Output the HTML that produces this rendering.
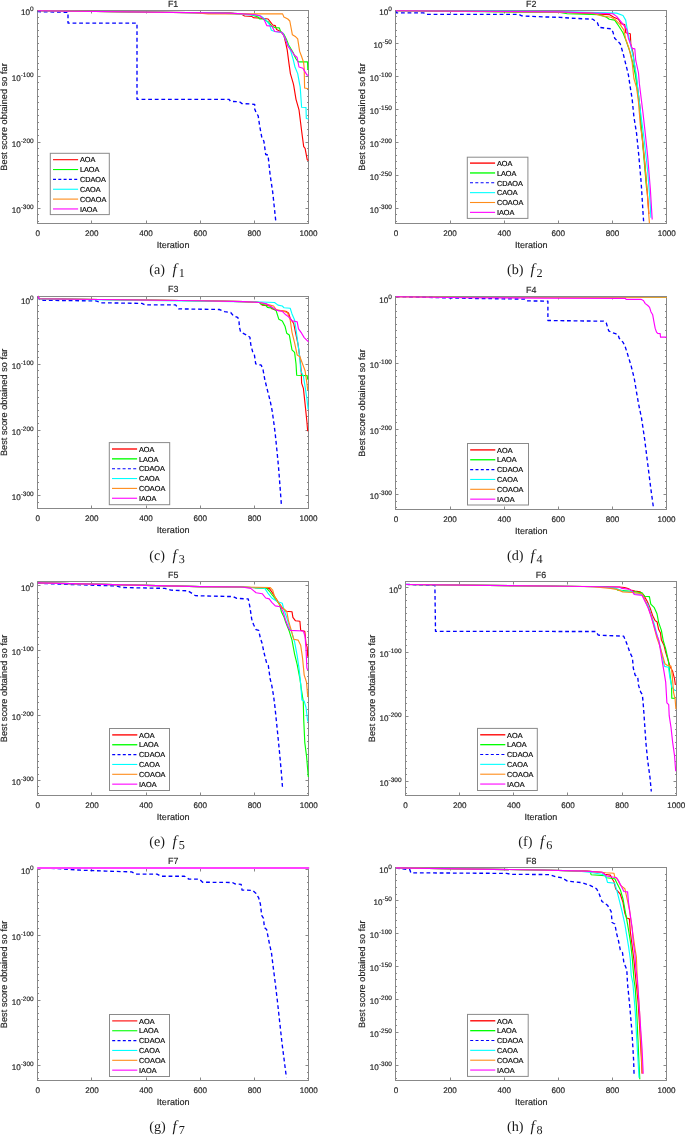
<!DOCTYPE html>
<html lang="en"><head><meta charset="utf-8"><title>Convergence curves F1-F8</title>
<style>
html,body{margin:0;padding:0;background:#fff}
body{width:685px;height:1135px;overflow:hidden}
svg{display:block;will-change:transform}
text{text-rendering:geometricPrecision}
.s{font-family:"Liberation Sans",sans-serif;fill:#262626}
.s{stroke:#262626;stroke-width:0.18px}
.k{fill:#000;stroke:#000}
.c{font-family:"Liberation Serif",serif;fill:#1a1a1a}
.ln{fill:none;stroke-linejoin:round;stroke-linecap:butt}
</style></head><body>
<svg width="685" height="1135" viewBox="0 0 685 1135">
<g id="p1">
<clipPath id="cp1"><rect x="37.4" y="9.7" width="271.8" height="213.8"/></clipPath>
<path d="M37.5 223.5v-3M37.5 10.5v3M91.5 223.5v-3M91.5 10.5v3M146.5 223.5v-3M146.5 10.5v3M200.5 223.5v-3M200.5 10.5v3M254.5 223.5v-3M254.5 10.5v3M308.5 223.5v-3M308.5 10.5v3M37.5 10.5h3 M308.5 10.5h-3M37.5 17.5h1.5 M308.5 17.5h-1.5M37.5 23.5h1.5 M308.5 23.5h-1.5M37.5 30.5h1.5 M308.5 30.5h-1.5M37.5 36.5h1.5 M308.5 36.5h-1.5M37.5 43.5h1.5 M308.5 43.5h-1.5M37.5 50.5h1.5 M308.5 50.5h-1.5M37.5 56.5h1.5 M308.5 56.5h-1.5M37.5 63.5h1.5 M308.5 63.5h-1.5M37.5 69.5h1.5 M308.5 69.5h-1.5M37.5 76.5h3 M308.5 76.5h-3M37.5 82.5h1.5 M308.5 82.5h-1.5M37.5 89.5h1.5 M308.5 89.5h-1.5M37.5 96.5h1.5 M308.5 96.5h-1.5M37.5 102.5h1.5 M308.5 102.5h-1.5M37.5 109.5h1.5 M308.5 109.5h-1.5M37.5 115.5h1.5 M308.5 115.5h-1.5M37.5 122.5h1.5 M308.5 122.5h-1.5M37.5 129.5h1.5 M308.5 129.5h-1.5M37.5 135.5h1.5 M308.5 135.5h-1.5M37.5 142.5h3 M308.5 142.5h-3M37.5 148.5h1.5 M308.5 148.5h-1.5M37.5 155.5h1.5 M308.5 155.5h-1.5M37.5 161.5h1.5 M308.5 161.5h-1.5M37.5 168.5h1.5 M308.5 168.5h-1.5M37.5 175.5h1.5 M308.5 175.5h-1.5M37.5 181.5h1.5 M308.5 181.5h-1.5M37.5 188.5h1.5 M308.5 188.5h-1.5M37.5 194.5h1.5 M308.5 194.5h-1.5M37.5 201.5h1.5 M308.5 201.5h-1.5M37.5 208.5h3 M308.5 208.5h-3M37.5 214.5h1.5 M308.5 214.5h-1.5M37.5 221.5h1.5 M308.5 221.5h-1.5" stroke="#888888" stroke-width="1" fill="none"/>
<rect x="37.5" y="10.5" width="271" height="213" fill="none" stroke="#888888" stroke-width="1"/>
<g clip-path="url(#cp1)">
<polyline class="ln" stroke="#ff0000" stroke-width="1.15" points="37.7,10.7 230,13.1 241.8,14.2 244.5,16 251.7,16.4 253.6,17.7 260.2,18.1 268.1,19 270.7,22.3 272.7,25 275.3,25.6 276.6,29.6 280.6,31.5 283.9,35.5 285.8,43.4 287.2,49.9 289.1,64.4 290.4,73.6 293.1,82.8 293.7,85.3 296,99.3 299,109.8 301.6,130.8 303.7,146.6 305.1,148.3 307.2,159.7 308.4,160.5"/>
<polyline class="ln" stroke="#00ff00" stroke-width="1.15" points="37.7,10.7 230,13.1 249.7,14.27 258.2,17.1 259.6,19 262.8,19 268.1,21.7 272,26.3 275.3,27.6 279.3,27.9 280.6,31.5 283.9,34.2 286.5,39.4 288.5,44.7 293.1,52.6 295.7,58.5 298.3,61.8 307.5,61.8 307.8,69 308.4,69.4"/>
<polyline class="ln" stroke="#0000ff" stroke-width="1.35" stroke-dasharray="3.8 2.8" points="37.7,10.8 38.2,11.7 68,12.3 68,23.1 137,23.1 137,99.3 228.9,99.3 230.7,101.4 239.4,101.7 242,103.6 251.7,104 254.7,104.5 254.7,108.9 256,112.4 258.2,115.9 259.6,125.5 261.7,136.9 263.9,141.3 265.7,154.5 268,155 270.1,174.6 272.7,192.1 275.7,220.4"/>
<polyline class="ln" stroke="#00ffff" stroke-width="1.15" points="37.7,10.7 215,12.95 230,13.6 256.3,15.1 261.5,16.4 265.5,19.7 269.4,24.3 271.4,30.2 274.7,31.5 282.6,32.8 286.5,42 290.4,49.9 293.1,59.1 295,67 297.7,73.6 299.6,84.1 300.2,87 301.6,107.2 306,107.5 306.3,118.5 308.4,118.9"/>
<polyline class="ln" stroke="#ff8c1a" stroke-width="1.15" points="37.7,10.7 195,12.7 208,13.9 282.6,13.9 283.9,17.1 287.8,19 289.8,21 292.4,34.8 295.7,36.8 297.7,38.8 299.6,51.2 301.6,56.5 303.6,62.4 304.2,68.3 304.6,88 308.4,88.7"/>
<polyline class="ln" stroke="#ff00ff" stroke-width="1.15" points="37.7,10.7 230,13.1 253.6,14.5 260.2,15.8 264.2,19.7 266.8,25.6 272,26.3 274.7,31.5 281.9,32.2 285.2,38.1 287.8,46 291.8,51.2 294.4,55.2 297,57.2 299,67 302.9,68.3 304.9,71.6 306.9,74.9 308.4,75.5"/>
</g>
<text class="s" x="37.7" y="235.7" font-size="8.1" text-anchor="middle">0</text>
<text class="s" x="91.86" y="235.7" font-size="8.1" text-anchor="middle">200</text>
<text class="s" x="146.02" y="235.7" font-size="8.1" text-anchor="middle">400</text>
<text class="s" x="200.18" y="235.7" font-size="8.1" text-anchor="middle">600</text>
<text class="s" x="254.34" y="235.7" font-size="8.1" text-anchor="middle">800</text>
<text class="s" x="308.5" y="235.7" font-size="8.1" text-anchor="middle">1000</text>
<text class="s" x="33.7" y="15.2" font-size="8.1" text-anchor="end">10<tspan font-size="6.5" dy="-4">0</tspan></text>
<text class="s" x="33.7" y="81.05" font-size="8.1" text-anchor="end">10<tspan font-size="6.5" dy="-4">-100</tspan></text>
<text class="s" x="33.7" y="146.9" font-size="8.1" text-anchor="end">10<tspan font-size="6.5" dy="-4">-200</tspan></text>
<text class="s" x="33.7" y="212.75" font-size="8.1" text-anchor="end">10<tspan font-size="6.5" dy="-4">-300</tspan></text>
<text class="s" x="173.1" y="247.7" font-size="9.05" text-anchor="middle">Iteration</text>
<text class="s" x="173.1" y="6.6" font-size="8.9" text-anchor="middle">F1</text>
<text class="s" font-size="9.1" letter-spacing="0.07" text-anchor="middle" transform="translate(7.2 116.9) rotate(-90)">Best score obtained so far</text>
<rect x="50.3" y="153.3" width="59" height="61.3" fill="#fff" stroke="#8a8a8a" stroke-width="1"/>
<line x1="53" y1="159.7" x2="78.1" y2="159.7" stroke="#ff0000" stroke-width="1.1"/>
<text class="s k" x="79.9" y="162.4" font-size="7.3">AOA</text>
<line x1="53" y1="169.55" x2="78.1" y2="169.55" stroke="#00ff00" stroke-width="1.1"/>
<text class="s k" x="79.9" y="172.25" font-size="7.3">LAOA</text>
<line x1="53" y1="179.4" x2="78.1" y2="179.4" stroke="#0000ff" stroke-width="1.1" stroke-dasharray="3 2.3"/>
<text class="s k" x="79.9" y="182.1" font-size="7.3">CDAOA</text>
<line x1="53" y1="189.25" x2="78.1" y2="189.25" stroke="#00ffff" stroke-width="1.1"/>
<text class="s k" x="79.9" y="191.95" font-size="7.3">CAOA</text>
<line x1="53" y1="199.1" x2="78.1" y2="199.1" stroke="#ff8c1a" stroke-width="1.1"/>
<text class="s k" x="79.9" y="201.8" font-size="7.3">COAOA</text>
<line x1="53" y1="208.95" x2="78.1" y2="208.95" stroke="#ff00ff" stroke-width="1.1"/>
<text class="s k" x="79.9" y="211.65" font-size="7.3">IAOA</text>
<text class="c" x="149.2" y="274.1" font-size="14.2">(a)</text>
<text class="c" x="172.6" y="274.1" font-size="15.4" font-style="italic">f</text>
<text class="c" x="178.8" y="276.6" font-size="12.2">1</text>
</g>
<g id="p2">
<clipPath id="cp2"><rect x="395.6" y="9.7" width="271.8" height="214"/></clipPath>
<path d="M395.5 223.5v-3M395.5 10.5v3M450.5 223.5v-3M450.5 10.5v3M504.5 223.5v-3M504.5 10.5v3M558.5 223.5v-3M558.5 10.5v3M612.5 223.5v-3M612.5 10.5v3M666.5 223.5v-3M666.5 10.5v3M395.5 16.5h1.5 M666.5 16.5h-1.5M395.5 23.5h1.5 M666.5 23.5h-1.5M395.5 30.5h1.5 M666.5 30.5h-1.5M395.5 36.5h1.5 M666.5 36.5h-1.5M395.5 43.5h3 M666.5 43.5h-3M395.5 49.5h1.5 M666.5 49.5h-1.5M395.5 56.5h1.5 M666.5 56.5h-1.5M395.5 63.5h1.5 M666.5 63.5h-1.5M395.5 69.5h1.5 M666.5 69.5h-1.5M395.5 76.5h3 M666.5 76.5h-3M395.5 82.5h1.5 M666.5 82.5h-1.5M395.5 89.5h1.5 M666.5 89.5h-1.5M395.5 96.5h1.5 M666.5 96.5h-1.5M395.5 102.5h1.5 M666.5 102.5h-1.5M395.5 109.5h3 M666.5 109.5h-3M395.5 115.5h1.5 M666.5 115.5h-1.5M395.5 122.5h1.5 M666.5 122.5h-1.5M395.5 129.5h1.5 M666.5 129.5h-1.5M395.5 135.5h1.5 M666.5 135.5h-1.5M395.5 142.5h3 M666.5 142.5h-3M395.5 148.5h1.5 M666.5 148.5h-1.5M395.5 155.5h1.5 M666.5 155.5h-1.5M395.5 161.5h1.5 M666.5 161.5h-1.5M395.5 168.5h1.5 M666.5 168.5h-1.5M395.5 175.5h3 M666.5 175.5h-3M395.5 181.5h1.5 M666.5 181.5h-1.5M395.5 188.5h1.5 M666.5 188.5h-1.5M395.5 194.5h1.5 M666.5 194.5h-1.5M395.5 201.5h1.5 M666.5 201.5h-1.5M395.5 208.5h3 M666.5 208.5h-3M395.5 214.5h1.5 M666.5 214.5h-1.5M395.5 221.5h1.5 M666.5 221.5h-1.5" stroke="#888888" stroke-width="1" fill="none"/>
<rect x="395.5" y="10.5" width="271" height="213" fill="none" stroke="#888888" stroke-width="1"/>
<g clip-path="url(#cp2)">
<polyline class="ln" stroke="#ff0000" stroke-width="1.15" points="395.9,10.7 560,12.2 609.3,14.6 613.8,17.3 618.4,19.2 621.1,23.7 624.8,24.6 625.7,32.8 630.3,33.8 630.8,43.8 633,52.9 634.8,67.5 636.6,80.3 638.5,94.9 640.3,109.5 640.7,125 642.3,137.4 645,164.7 647.7,197.6 648.9,214"/>
<polyline class="ln" stroke="#00ff00" stroke-width="1.15" points="395.9,10.7 560,12.4 567.3,13.7 599.2,14.6 606.5,17.3 609.3,19.2 614.7,20.1 618.4,25.5 623,32.8 626.6,42 630.3,52.9 633,63.9 635.7,76.6 637.6,91.2 639.4,105.8 641.2,125 643.9,158 646.7,190.3"/>
<polyline class="ln" stroke="#0000ff" stroke-width="1.35" stroke-dasharray="3.8 2.8" points="395.9,10.7 396.7,12.9 423.7,12.9 426.8,14.4 518.8,14.4 521.8,15.9 543.3,16.9 560,17.3 570.9,18.2 592.8,19.2 597.4,22.8 599.2,27.4 611.1,28.8 612.9,31.9 614.7,38.3 620.2,43.8 623,52.9 625.7,63.9 628.4,74.8 630.3,87.6 632.1,98.5 633.9,116.8 636.6,133.7 638.8,155.6 641.2,183 643,212.2 643.6,221.3"/>
<polyline class="ln" stroke="#00ffff" stroke-width="1.15" points="395.9,10.7 560,11.6 616.6,13.1 623,15.5 625.7,20.1 627.5,31 631.2,47.4 633.9,60.2 636.6,76.6 638.5,94.9 640.3,110 643.9,137.4 647.6,170.2 650.3,204.9 650.9,217.7"/>
<polyline class="ln" stroke="#ff8c1a" stroke-width="1.15" points="395.9,10.7 560,12.2 592.8,13.1 600.1,15.5 611.1,17.3 614.7,19.2 620.2,24.6 623.9,30.1 625.7,39.2 629.3,49.3 632.1,62 633.9,78.5 636.6,87.6 638.5,102.2 640.3,125 642.1,137.4 644.9,164.7 647.6,197.6 649.4,223.1"/>
<polyline class="ln" stroke="#ff00ff" stroke-width="1.15" points="395.9,10.7 560,11.9 612.9,13.7 616.6,16.4 622,22.8 626.6,29.2 628.4,38.3 632.1,48.4 634.8,48.9 635.7,60.2 638.5,73 639.4,83.9 641.2,98.5 643,113.1 644.9,130.1 647.6,155.6 650.3,188.5 652.2,219.5"/>
</g>
<text class="s" x="395.9" y="235.9" font-size="8.1" text-anchor="middle">0</text>
<text class="s" x="450.06" y="235.9" font-size="8.1" text-anchor="middle">200</text>
<text class="s" x="504.22" y="235.9" font-size="8.1" text-anchor="middle">400</text>
<text class="s" x="558.38" y="235.9" font-size="8.1" text-anchor="middle">600</text>
<text class="s" x="612.54" y="235.9" font-size="8.1" text-anchor="middle">800</text>
<text class="s" x="666.7" y="235.9" font-size="8.1" text-anchor="middle">1000</text>
<text class="s" x="391.9" y="15.1" font-size="8.1" text-anchor="end">10<tspan font-size="6.5" dy="-4">0</tspan></text>
<text class="s" x="391.9" y="48.05" font-size="8.1" text-anchor="end">10<tspan font-size="6.5" dy="-4">-50</tspan></text>
<text class="s" x="391.9" y="81" font-size="8.1" text-anchor="end">10<tspan font-size="6.5" dy="-4">-100</tspan></text>
<text class="s" x="391.9" y="113.95" font-size="8.1" text-anchor="end">10<tspan font-size="6.5" dy="-4">-150</tspan></text>
<text class="s" x="391.9" y="146.9" font-size="8.1" text-anchor="end">10<tspan font-size="6.5" dy="-4">-200</tspan></text>
<text class="s" x="391.9" y="179.85" font-size="8.1" text-anchor="end">10<tspan font-size="6.5" dy="-4">-250</tspan></text>
<text class="s" x="391.9" y="212.8" font-size="8.1" text-anchor="end">10<tspan font-size="6.5" dy="-4">-300</tspan></text>
<text class="s" x="531.3" y="247.9" font-size="9.05" text-anchor="middle">Iteration</text>
<text class="s" x="531.3" y="6.6" font-size="8.9" text-anchor="middle">F2</text>
<text class="s" font-size="9.1" letter-spacing="0.07" text-anchor="middle" transform="translate(364.9 117) rotate(-90)">Best score obtained so far</text>
<rect x="467.3" y="157.2" width="60.6" height="61.2" fill="#fff" stroke="#8a8a8a" stroke-width="1"/>
<line x1="470" y1="163.1" x2="495.1" y2="163.1" stroke="#ff0000" stroke-width="1.35"/>
<text class="s k" x="496.9" y="165.8" font-size="7.3">AOA</text>
<line x1="470" y1="172.95" x2="495.1" y2="172.95" stroke="#00ff00" stroke-width="1.35"/>
<text class="s k" x="496.9" y="175.65" font-size="7.3">LAOA</text>
<line x1="470" y1="182.8" x2="495.1" y2="182.8" stroke="#0000ff" stroke-width="1.1" stroke-dasharray="3 2.3"/>
<text class="s k" x="496.9" y="185.5" font-size="7.3">CDAOA</text>
<line x1="470" y1="192.65" x2="495.1" y2="192.65" stroke="#00ffff" stroke-width="1.1"/>
<text class="s k" x="496.9" y="195.35" font-size="7.3">CAOA</text>
<line x1="470" y1="202.5" x2="495.1" y2="202.5" stroke="#ff8c1a" stroke-width="1.1"/>
<text class="s k" x="496.9" y="205.2" font-size="7.3">COAOA</text>
<line x1="470" y1="212.35" x2="495.1" y2="212.35" stroke="#ff00ff" stroke-width="1.1"/>
<text class="s k" x="496.9" y="215.05" font-size="7.3">IAOA</text>
<text class="c" x="507" y="274.1" font-size="14.2">(b)</text>
<text class="c" x="530.4" y="274.1" font-size="15.4" font-style="italic">f</text>
<text class="c" x="536.6" y="276.6" font-size="12.2">2</text>
</g>
<g id="p3">
<clipPath id="cp3"><rect x="37.4" y="295.2" width="271.9" height="213.7"/></clipPath>
<path d="M37.5 508.5v-3M37.5 296.5v3M91.5 508.5v-3M91.5 296.5v3M146.5 508.5v-3M146.5 296.5v3M200.5 508.5v-3M200.5 296.5v3M254.5 508.5v-3M254.5 296.5v3M308.5 508.5v-3M308.5 296.5v3M37.5 298.5h3 M308.5 298.5h-3M37.5 305.5h1.5 M308.5 305.5h-1.5M37.5 311.5h1.5 M308.5 311.5h-1.5M37.5 318.5h1.5 M308.5 318.5h-1.5M37.5 325.5h1.5 M308.5 325.5h-1.5M37.5 331.5h1.5 M308.5 331.5h-1.5M37.5 338.5h1.5 M308.5 338.5h-1.5M37.5 344.5h1.5 M308.5 344.5h-1.5M37.5 351.5h1.5 M308.5 351.5h-1.5M37.5 357.5h1.5 M308.5 357.5h-1.5M37.5 364.5h3 M308.5 364.5h-3M37.5 370.5h1.5 M308.5 370.5h-1.5M37.5 377.5h1.5 M308.5 377.5h-1.5M37.5 384.5h1.5 M308.5 384.5h-1.5M37.5 390.5h1.5 M308.5 390.5h-1.5M37.5 397.5h1.5 M308.5 397.5h-1.5M37.5 403.5h1.5 M308.5 403.5h-1.5M37.5 410.5h1.5 M308.5 410.5h-1.5M37.5 416.5h1.5 M308.5 416.5h-1.5M37.5 423.5h1.5 M308.5 423.5h-1.5M37.5 430.5h3 M308.5 430.5h-3M37.5 436.5h1.5 M308.5 436.5h-1.5M37.5 443.5h1.5 M308.5 443.5h-1.5M37.5 449.5h1.5 M308.5 449.5h-1.5M37.5 456.5h1.5 M308.5 456.5h-1.5M37.5 462.5h1.5 M308.5 462.5h-1.5M37.5 469.5h1.5 M308.5 469.5h-1.5M37.5 475.5h1.5 M308.5 475.5h-1.5M37.5 482.5h1.5 M308.5 482.5h-1.5M37.5 489.5h1.5 M308.5 489.5h-1.5M37.5 495.5h3 M308.5 495.5h-3M37.5 502.5h1.5 M308.5 502.5h-1.5" stroke="#888888" stroke-width="1" fill="none"/>
<rect x="37.5" y="296.5" width="271" height="212" fill="none" stroke="#888888" stroke-width="1"/>
<g clip-path="url(#cp3)">
<polyline class="ln" stroke="#ff0000" stroke-width="1.15" points="37.7,295.9 39.2,298.8 200,300.8 243.8,301.6 259.6,302.5 262.2,305.1 270.1,306 271.8,308.7 277.1,310.4 285.8,311.3 288.5,313 290.2,318.3 293.7,323.5 295.5,332.3 298.1,344.6 300.2,360.3 301.3,372.6 301.6,383.1 303.4,388.4 305.1,404.1 306.9,421.7 307.7,431.3"/>
<polyline class="ln" stroke="#00ff00" stroke-width="1.15" points="37.7,295.9 39.2,298.8 200,300.8 243.8,301.6 259.6,302.5 261.3,304.3 265.7,305.1 267.4,307.4 272.7,308.3 276.2,310.9 278.8,319.2 282.3,320.9 285,326.2 286.7,333.2 289.3,334.9 292,349.8 294.6,352.4 296,363.8 296.7,375.2 307.2,375.6 307.7,379.6"/>
<polyline class="ln" stroke="#0000ff" stroke-width="1.35" stroke-dasharray="3.8 2.8" points="37.7,296.2 39.5,299.5 43.8,300.3 95.9,300.9 102,302.8 141.9,303.4 145,304.9 175.6,304.9 178.7,308.9 219.3,309.5 224.5,311.6 230.7,312.5 233.3,315.7 237.7,317.4 238.9,320 239.4,327 240.6,332 246.4,334.9 249.9,337.2 250.8,344.6 252.6,351.6 254.3,354.2 255.7,363.8 261.3,365.2 263.1,370 264.8,379.6 267.4,390.1 270.1,400.6 272.2,411.1 273.9,423.4 275.2,433.5 276.8,449.2 278.5,466.7 280.3,490.1 281.5,506.4"/>
<polyline class="ln" stroke="#00ffff" stroke-width="1.15" points="37.7,295.9 39.2,298.9 200,301.1 261.3,302 274.5,302.5 278,305.1 282.3,306 284.1,307.8 290.2,308.3 292,313.9 294.6,320 296.4,332.3 298.1,344.6 299.9,358.6 300.7,370.8 303.4,376.1 305.1,386.6 306.9,398.9 308.1,409.4"/>
<polyline class="ln" stroke="#ff8c1a" stroke-width="1.15" points="37.7,295.9 39.2,298.8 200,300.8 243.8,301.6 259.6,302.5 270.1,305.1 273.6,306 276.2,309.5 284.1,311.3 287.6,313 290.2,320 292,332.3 294.6,342.8 297.2,355.1 299.9,356.8 302.5,363.8 305.1,370.8 306.9,383.1 307.7,390.1"/>
<polyline class="ln" stroke="#ff00ff" stroke-width="1.15" points="37.7,295.9 39.2,298.8 200,300.8 243.8,301.6 259.6,302.5 266.6,303.9 271.8,306.9 277.1,310.4 282.3,311.3 285.8,314.8 289.3,317.4 292,320.9 297.2,321.8 298.5,328.8 301.6,333.2 304.2,337.6 307.7,341.1 308.6,341.5"/>
</g>
<text class="s" x="37.7" y="521.1" font-size="8.1" text-anchor="middle">0</text>
<text class="s" x="91.88" y="521.1" font-size="8.1" text-anchor="middle">200</text>
<text class="s" x="146.06" y="521.1" font-size="8.1" text-anchor="middle">400</text>
<text class="s" x="200.24" y="521.1" font-size="8.1" text-anchor="middle">600</text>
<text class="s" x="254.42" y="521.1" font-size="8.1" text-anchor="middle">800</text>
<text class="s" x="308.6" y="521.1" font-size="8.1" text-anchor="middle">1000</text>
<text class="s" x="33.7" y="303.5" font-size="8.1" text-anchor="end">10<tspan font-size="6.5" dy="-4">0</tspan></text>
<text class="s" x="33.7" y="369.1" font-size="8.1" text-anchor="end">10<tspan font-size="6.5" dy="-4">-100</tspan></text>
<text class="s" x="33.7" y="434.7" font-size="8.1" text-anchor="end">10<tspan font-size="6.5" dy="-4">-200</tspan></text>
<text class="s" x="33.7" y="500.3" font-size="8.1" text-anchor="end">10<tspan font-size="6.5" dy="-4">-300</tspan></text>
<text class="s" x="173.15" y="533.1" font-size="9.05" text-anchor="middle">Iteration</text>
<text class="s" x="173.15" y="292.1" font-size="8.9" text-anchor="middle">F3</text>
<text class="s" font-size="9.1" letter-spacing="0.07" text-anchor="middle" transform="translate(7.2 402.35) rotate(-90)">Best score obtained so far</text>
<rect x="109.3" y="442.6" width="60.4" height="62.1" fill="#fff" stroke="#8a8a8a" stroke-width="1"/>
<line x1="112" y1="449" x2="137.1" y2="449" stroke="#ff0000" stroke-width="1.35"/>
<text class="s k" x="138.9" y="451.7" font-size="7.3">AOA</text>
<line x1="112" y1="458.85" x2="137.1" y2="458.85" stroke="#00ff00" stroke-width="1.35"/>
<text class="s k" x="138.9" y="461.55" font-size="7.3">LAOA</text>
<line x1="112" y1="468.7" x2="137.1" y2="468.7" stroke="#0000ff" stroke-width="1.1" stroke-dasharray="3 2.3"/>
<text class="s k" x="138.9" y="471.4" font-size="7.3">CDAOA</text>
<line x1="112" y1="478.55" x2="137.1" y2="478.55" stroke="#00ffff" stroke-width="1.1"/>
<text class="s k" x="138.9" y="481.25" font-size="7.3">CAOA</text>
<line x1="112" y1="488.4" x2="137.1" y2="488.4" stroke="#ff8c1a" stroke-width="1.1"/>
<text class="s k" x="138.9" y="491.1" font-size="7.3">COAOA</text>
<line x1="112" y1="498.25" x2="137.1" y2="498.25" stroke="#ff00ff" stroke-width="1.1"/>
<text class="s k" x="138.9" y="500.95" font-size="7.3">IAOA</text>
<text class="c" x="149.2" y="560.4" font-size="14.2">(c)</text>
<text class="c" x="172.6" y="560.4" font-size="15.4" font-style="italic">f</text>
<text class="c" x="178.8" y="562.9" font-size="12.2">3</text>
</g>
<g id="p4">
<clipPath id="cp4"><rect x="395.6" y="295.6" width="271.7" height="214"/></clipPath>
<path d="M395.5 509.5v-3M395.5 296.5v3M450.5 509.5v-3M450.5 296.5v3M504.5 509.5v-3M504.5 296.5v3M558.5 509.5v-3M558.5 296.5v3M612.5 509.5v-3M612.5 296.5v3M666.5 509.5v-3M666.5 296.5v3M395.5 297.5h3 M666.5 297.5h-3M395.5 304.5h1.5 M666.5 304.5h-1.5M395.5 311.5h1.5 M666.5 311.5h-1.5M395.5 317.5h1.5 M666.5 317.5h-1.5M395.5 324.5h1.5 M666.5 324.5h-1.5M395.5 330.5h1.5 M666.5 330.5h-1.5M395.5 337.5h1.5 M666.5 337.5h-1.5M395.5 343.5h1.5 M666.5 343.5h-1.5M395.5 350.5h1.5 M666.5 350.5h-1.5M395.5 356.5h1.5 M666.5 356.5h-1.5M395.5 363.5h3 M666.5 363.5h-3M395.5 370.5h1.5 M666.5 370.5h-1.5M395.5 376.5h1.5 M666.5 376.5h-1.5M395.5 383.5h1.5 M666.5 383.5h-1.5M395.5 389.5h1.5 M666.5 389.5h-1.5M395.5 396.5h1.5 M666.5 396.5h-1.5M395.5 402.5h1.5 M666.5 402.5h-1.5M395.5 409.5h1.5 M666.5 409.5h-1.5M395.5 415.5h1.5 M666.5 415.5h-1.5M395.5 422.5h1.5 M666.5 422.5h-1.5M395.5 429.5h3 M666.5 429.5h-3M395.5 435.5h1.5 M666.5 435.5h-1.5M395.5 442.5h1.5 M666.5 442.5h-1.5M395.5 448.5h1.5 M666.5 448.5h-1.5M395.5 455.5h1.5 M666.5 455.5h-1.5M395.5 461.5h1.5 M666.5 461.5h-1.5M395.5 468.5h1.5 M666.5 468.5h-1.5M395.5 475.5h1.5 M666.5 475.5h-1.5M395.5 481.5h1.5 M666.5 481.5h-1.5M395.5 488.5h1.5 M666.5 488.5h-1.5M395.5 494.5h3 M666.5 494.5h-3M395.5 501.5h1.5 M666.5 501.5h-1.5M395.5 507.5h1.5 M666.5 507.5h-1.5" stroke="#888888" stroke-width="1" fill="none"/>
<rect x="395.5" y="296.5" width="271" height="213" fill="none" stroke="#888888" stroke-width="1"/>
<g clip-path="url(#cp4)">
<polyline class="ln" stroke="#0000ff" stroke-width="1.35" stroke-dasharray="3.8 2.8" points="395.9,296.7 475.8,298.5 524.9,299.1 526.4,300.9 547.9,301.1 547.9,320.5 603.7,321.2 606.2,322.8 608.7,330.9 612.4,332.8 615.5,333.6 618,334.6 619.2,338.3 622.9,342.1 624.8,345.5 627.8,354.9 631,365.4 634.2,378.1 636.3,390.8 638.5,403.5 641.6,418.6 644.7,439.7 647.8,464.5 650.9,489.3 653.4,507.3"/>
<polyline class="ln" stroke="#dfa234" stroke-width="1.15" points="395.9,296.9 470,297.45 666.9,297.45"/>
<polyline class="ln" stroke="#ff00ff" stroke-width="1.15" points="395.9,296.7 470,297.7 540,298.1 625.4,298.4 626.1,299.3 640.9,299.3 643.4,300.5 645.3,303.6 647.8,305.5 649.6,307.3 650.9,311.7 652.7,314.8 654,322.2 655.2,328.4 656.5,332.1 657.7,333.4 660.2,333.6 660.5,337.1 666.6,337.1"/>
</g>
<text class="s" x="395.9" y="521.8" font-size="8.1" text-anchor="middle">0</text>
<text class="s" x="450.04" y="521.8" font-size="8.1" text-anchor="middle">200</text>
<text class="s" x="504.18" y="521.8" font-size="8.1" text-anchor="middle">400</text>
<text class="s" x="558.32" y="521.8" font-size="8.1" text-anchor="middle">600</text>
<text class="s" x="612.46" y="521.8" font-size="8.1" text-anchor="middle">800</text>
<text class="s" x="666.6" y="521.8" font-size="8.1" text-anchor="middle">1000</text>
<text class="s" x="391.9" y="302.6" font-size="8.1" text-anchor="end">10<tspan font-size="6.5" dy="-4">0</tspan></text>
<text class="s" x="391.9" y="368.2" font-size="8.1" text-anchor="end">10<tspan font-size="6.5" dy="-4">-100</tspan></text>
<text class="s" x="391.9" y="433.8" font-size="8.1" text-anchor="end">10<tspan font-size="6.5" dy="-4">-200</tspan></text>
<text class="s" x="391.9" y="499.4" font-size="8.1" text-anchor="end">10<tspan font-size="6.5" dy="-4">-300</tspan></text>
<text class="s" x="531.25" y="533.8" font-size="9.05" text-anchor="middle">Iteration</text>
<text class="s" x="531.25" y="292.5" font-size="8.9" text-anchor="middle">F4</text>
<text class="s" font-size="9.1" letter-spacing="0.07" text-anchor="middle" transform="translate(364.9 402.9) rotate(-90)">Best score obtained so far</text>
<rect x="467.5" y="443.5" width="61" height="61.5" fill="#fff" stroke="#8a8a8a" stroke-width="1"/>
<line x1="470.2" y1="449.9" x2="495.3" y2="449.9" stroke="#ff0000" stroke-width="1.35"/>
<text class="s k" x="497.1" y="452.6" font-size="7.3">AOA</text>
<line x1="470.2" y1="459.75" x2="495.3" y2="459.75" stroke="#00ff00" stroke-width="1.35"/>
<text class="s k" x="497.1" y="462.45" font-size="7.3">LAOA</text>
<line x1="470.2" y1="469.6" x2="495.3" y2="469.6" stroke="#0000ff" stroke-width="1.1" stroke-dasharray="3 2.3"/>
<text class="s k" x="497.1" y="472.3" font-size="7.3">CDAOA</text>
<line x1="470.2" y1="479.45" x2="495.3" y2="479.45" stroke="#00ffff" stroke-width="1.1"/>
<text class="s k" x="497.1" y="482.15" font-size="7.3">CAOA</text>
<line x1="470.2" y1="489.3" x2="495.3" y2="489.3" stroke="#ff8c1a" stroke-width="1.1"/>
<text class="s k" x="497.1" y="492" font-size="7.3">COAOA</text>
<line x1="470.2" y1="499.15" x2="495.3" y2="499.15" stroke="#ff00ff" stroke-width="1.1"/>
<text class="s k" x="497.1" y="501.85" font-size="7.3">IAOA</text>
<text class="c" x="507" y="560.4" font-size="14.2">(d)</text>
<text class="c" x="530.4" y="560.4" font-size="15.4" font-style="italic">f</text>
<text class="c" x="536.6" y="562.9" font-size="12.2">4</text>
</g>
<g id="p5">
<clipPath id="cp5"><rect x="37.4" y="580.9" width="272" height="214.6"/></clipPath>
<path d="M37.5 795.5v-3M37.5 581.5v3M91.5 795.5v-3M91.5 581.5v3M146.5 795.5v-3M146.5 581.5v3M200.5 795.5v-3M200.5 581.5v3M254.5 795.5v-3M254.5 581.5v3M308.5 795.5v-3M308.5 581.5v3M37.5 585.5h3 M308.5 585.5h-3M37.5 592.5h1.5 M308.5 592.5h-1.5M37.5 598.5h1.5 M308.5 598.5h-1.5M37.5 605.5h1.5 M308.5 605.5h-1.5M37.5 611.5h1.5 M308.5 611.5h-1.5M37.5 618.5h1.5 M308.5 618.5h-1.5M37.5 624.5h1.5 M308.5 624.5h-1.5M37.5 631.5h1.5 M308.5 631.5h-1.5M37.5 637.5h1.5 M308.5 637.5h-1.5M37.5 644.5h1.5 M308.5 644.5h-1.5M37.5 650.5h3 M308.5 650.5h-3M37.5 657.5h1.5 M308.5 657.5h-1.5M37.5 663.5h1.5 M308.5 663.5h-1.5M37.5 670.5h1.5 M308.5 670.5h-1.5M37.5 676.5h1.5 M308.5 676.5h-1.5M37.5 683.5h1.5 M308.5 683.5h-1.5M37.5 689.5h1.5 M308.5 689.5h-1.5M37.5 696.5h1.5 M308.5 696.5h-1.5M37.5 702.5h1.5 M308.5 702.5h-1.5M37.5 709.5h1.5 M308.5 709.5h-1.5M37.5 715.5h3 M308.5 715.5h-3M37.5 722.5h1.5 M308.5 722.5h-1.5M37.5 728.5h1.5 M308.5 728.5h-1.5M37.5 735.5h1.5 M308.5 735.5h-1.5M37.5 741.5h1.5 M308.5 741.5h-1.5M37.5 748.5h1.5 M308.5 748.5h-1.5M37.5 754.5h1.5 M308.5 754.5h-1.5M37.5 761.5h1.5 M308.5 761.5h-1.5M37.5 767.5h1.5 M308.5 767.5h-1.5M37.5 774.5h1.5 M308.5 774.5h-1.5M37.5 780.5h3 M308.5 780.5h-3M37.5 786.5h1.5 M308.5 786.5h-1.5M37.5 793.5h1.5 M308.5 793.5h-1.5" stroke="#888888" stroke-width="1" fill="none"/>
<rect x="37.5" y="581.5" width="271" height="214" fill="none" stroke="#888888" stroke-width="1"/>
<g clip-path="url(#cp5)">
<polyline class="ln" stroke="#ff0000" stroke-width="1.15" points="37.7,582.9 200,586.6 242,587 264,588.2 269.2,588.4 271.8,591.9 274.5,596.3 278,601.5 281.5,606.8 285.8,611.2 292,611.7 292.9,617.3 295.5,620.8 299.9,621.2 300.7,630.4 304.8,631.3 306,643.6 307.2,647.1 307.7,656.7"/>
<polyline class="ln" stroke="#00ff00" stroke-width="1.15" points="37.7,582.9 200,586.6 242,587 264,588.2 266.6,588.4 269.2,591 271.8,594.5 276.2,599.8 279.7,605 281.5,612 284.1,617.3 285.8,622.6 289.3,631.3 292,640.1 294.6,654.1 297.2,664.6 299.9,678.6 301.6,690.9 303.3,701.7 303.7,719.2 304.8,742.6 306.6,756.6 308.3,777"/>
<polyline class="ln" stroke="#0000ff" stroke-width="1.35" stroke-dasharray="3.8 2.8" points="37.7,583.2 60.7,584.1 94.4,585.3 115.8,585.9 122,587.5 164.9,588.4 171,590.2 187.9,590.8 195.5,595.7 233.3,596.6 236.8,598.4 248.2,598.9 249.9,606.8 251.7,619.1 253.4,624.3 256.1,629.6 258.7,630.4 260.4,638.3 262.2,643.6 263.9,652.3 266.6,662.9 268.3,665.5 270.1,678.6 271.8,685.6 273.6,696.1 275,707.5 277.4,730.9 279.7,754.2 281.5,774.1 282.6,788.7"/>
<polyline class="ln" stroke="#00ffff" stroke-width="1.15" points="37.7,582.9 200,586.6 242,587 264,588.2 264.8,588.4 268.3,593.7 271.8,598 277.1,601.5 282.3,603.3 284.1,610.3 286.7,617.3 289.3,626.1 292,633.1 294.6,641.8 297.2,655.8 299,668.1 300.7,683.9 301.9,699.9 304.2,701.1 306,707.5 307.7,721.5"/>
<polyline class="ln" stroke="#ff8c1a" stroke-width="1.15" points="37.7,582.9 200,586.6 242,587 270.1,587.5 272.7,590.1 274.5,596.3 278,602.4 282.3,607.7 286.7,611.2 288.5,620.8 291.1,629.6 293.7,639.2 298.1,640.1 300.7,645.3 302.5,657.6 304.2,675.1 306.5,682.1 307.7,696.1 308,697"/>
<polyline class="ln" stroke="#ff00ff" stroke-width="1.15" points="37.7,582.9 200,586.6 242,587 250.8,588.4 256.1,592.8 262.2,593.7 265.7,598 269.2,598.9 271.8,602.4 275.3,605.9 280.6,606.8 283.2,612 285.8,620.8 288.5,627.8 290.2,630.4 303.4,631 305.1,636.6 306,648.8 306.9,668.1 307.7,669.9"/>
</g>
<text class="s" x="37.7" y="807.7" font-size="8.1" text-anchor="middle">0</text>
<text class="s" x="91.9" y="807.7" font-size="8.1" text-anchor="middle">200</text>
<text class="s" x="146.1" y="807.7" font-size="8.1" text-anchor="middle">400</text>
<text class="s" x="200.3" y="807.7" font-size="8.1" text-anchor="middle">600</text>
<text class="s" x="254.5" y="807.7" font-size="8.1" text-anchor="middle">800</text>
<text class="s" x="308.7" y="807.7" font-size="8.1" text-anchor="middle">1000</text>
<text class="s" x="33.7" y="590.5" font-size="8.1" text-anchor="end">10<tspan font-size="6.5" dy="-4">0</tspan></text>
<text class="s" x="33.7" y="655.4" font-size="8.1" text-anchor="end">10<tspan font-size="6.5" dy="-4">-100</tspan></text>
<text class="s" x="33.7" y="720.3" font-size="8.1" text-anchor="end">10<tspan font-size="6.5" dy="-4">-200</tspan></text>
<text class="s" x="33.7" y="785.2" font-size="8.1" text-anchor="end">10<tspan font-size="6.5" dy="-4">-300</tspan></text>
<text class="s" x="173.2" y="819.7" font-size="9.05" text-anchor="middle">Iteration</text>
<text class="s" x="173.2" y="577.8" font-size="8.9" text-anchor="middle">F5</text>
<text class="s" font-size="9.1" letter-spacing="0.07" text-anchor="middle" transform="translate(7.2 688.5) rotate(-90)">Best score obtained so far</text>
<rect x="109.5" y="728.5" width="60" height="62" fill="#fff" stroke="#8a8a8a" stroke-width="1"/>
<line x1="112.2" y1="734.9" x2="137.3" y2="734.9" stroke="#ff0000" stroke-width="1.35"/>
<text class="s k" x="139.1" y="737.6" font-size="7.3">AOA</text>
<line x1="112.2" y1="744.75" x2="137.3" y2="744.75" stroke="#00ff00" stroke-width="1.35"/>
<text class="s k" x="139.1" y="747.45" font-size="7.3">LAOA</text>
<line x1="112.2" y1="754.6" x2="137.3" y2="754.6" stroke="#0000ff" stroke-width="1.1" stroke-dasharray="3 2.3"/>
<text class="s k" x="139.1" y="757.3" font-size="7.3">CDAOA</text>
<line x1="112.2" y1="764.45" x2="137.3" y2="764.45" stroke="#00ffff" stroke-width="1.1"/>
<text class="s k" x="139.1" y="767.15" font-size="7.3">CAOA</text>
<line x1="112.2" y1="774.3" x2="137.3" y2="774.3" stroke="#ff8c1a" stroke-width="1.1"/>
<text class="s k" x="139.1" y="777" font-size="7.3">COAOA</text>
<line x1="112.2" y1="784.15" x2="137.3" y2="784.15" stroke="#ff00ff" stroke-width="1.1"/>
<text class="s k" x="139.1" y="786.85" font-size="7.3">IAOA</text>
<text class="c" x="149.2" y="846.1" font-size="14.2">(e)</text>
<text class="c" x="172.6" y="846.1" font-size="15.4" font-style="italic">f</text>
<text class="c" x="178.8" y="848.6" font-size="12.2">5</text>
</g>
<g id="p6">
<clipPath id="cp6"><rect x="405.3" y="580.9" width="271.6" height="214.6"/></clipPath>
<path d="M405.5 795.5v-3M405.5 581.5v3M459.5 795.5v-3M459.5 581.5v3M513.5 795.5v-3M513.5 581.5v3M567.5 795.5v-3M567.5 581.5v3M622.5 795.5v-3M622.5 581.5v3M676.5 795.5v-3M676.5 581.5v3M405.5 587.5h3 M676.5 587.5h-3M405.5 594.5h1.5 M676.5 594.5h-1.5M405.5 600.5h1.5 M676.5 600.5h-1.5M405.5 607.5h1.5 M676.5 607.5h-1.5M405.5 613.5h1.5 M676.5 613.5h-1.5M405.5 620.5h1.5 M676.5 620.5h-1.5M405.5 626.5h1.5 M676.5 626.5h-1.5M405.5 632.5h1.5 M676.5 632.5h-1.5M405.5 639.5h1.5 M676.5 639.5h-1.5M405.5 645.5h1.5 M676.5 645.5h-1.5M405.5 652.5h3 M676.5 652.5h-3M405.5 658.5h1.5 M676.5 658.5h-1.5M405.5 665.5h1.5 M676.5 665.5h-1.5M405.5 671.5h1.5 M676.5 671.5h-1.5M405.5 677.5h1.5 M676.5 677.5h-1.5M405.5 684.5h1.5 M676.5 684.5h-1.5M405.5 690.5h1.5 M676.5 690.5h-1.5M405.5 697.5h1.5 M676.5 697.5h-1.5M405.5 703.5h1.5 M676.5 703.5h-1.5M405.5 710.5h1.5 M676.5 710.5h-1.5M405.5 716.5h3 M676.5 716.5h-3M405.5 723.5h1.5 M676.5 723.5h-1.5M405.5 729.5h1.5 M676.5 729.5h-1.5M405.5 735.5h1.5 M676.5 735.5h-1.5M405.5 742.5h1.5 M676.5 742.5h-1.5M405.5 748.5h1.5 M676.5 748.5h-1.5M405.5 755.5h1.5 M676.5 755.5h-1.5M405.5 761.5h1.5 M676.5 761.5h-1.5M405.5 768.5h1.5 M676.5 768.5h-1.5M405.5 774.5h1.5 M676.5 774.5h-1.5M405.5 781.5h3 M676.5 781.5h-3M405.5 787.5h1.5 M676.5 787.5h-1.5M405.5 793.5h1.5 M676.5 793.5h-1.5" stroke="#888888" stroke-width="1" fill="none"/>
<rect x="405.5" y="581.5" width="271" height="214" fill="none" stroke="#888888" stroke-width="1"/>
<g clip-path="url(#cp6)">
<polyline class="ln" stroke="#ff0000" stroke-width="1.15" points="406,584.5 565,586.2 619.3,587 624.6,587.5 628.9,588.9 630.7,590.1 635.1,591 640.3,591.9 643.8,595.4 647.3,601.5 650,607.7 652.6,615.5 655.2,620.8 657,621.7 658.7,629.6 660.5,633.1 661.4,640.1 664,645.3 665.7,652.3 668.4,661.1 670.1,666.4 672.7,671.6 674.5,678.6 675.4,684.8"/>
<polyline class="ln" stroke="#00ff00" stroke-width="1.15" points="406,584.5 565,586.2 603.5,586.77 615.8,588.4 617.6,590.1 631.6,591.4 642.1,592.8 644.7,596.3 649.4,596.6 650.8,604.2 654.3,607.7 657,613.8 658.7,622.6 661.4,630.4 663.1,640.1 665.7,648.8 668.4,661.1 670.1,675.1 671.5,685.6 671.8,698.2 675.1,698.4"/>
<polyline class="ln" stroke="#0000ff" stroke-width="1.35" stroke-dasharray="3.8 2.8" points="406,584.4 434.9,585.3 435.5,631.3 595.8,631.5 598.3,635.2 623.7,636.2 625.4,640.1 628.1,647.1 629.8,652.3 632.4,657.6 633.3,668.1 635.1,675.1 637.7,676.9 638.6,685.6 640.6,691.8 642.4,694.7 643.5,707.5 644.7,725 645.9,742.6 647.6,760.1 650,777.6 651.3,791.5"/>
<polyline class="ln" stroke="#00ffff" stroke-width="1.15" points="406,584.5 565,586.2 600,586.72 615.8,588.4 622.8,591 632.4,591.9 634.2,593.7 642.1,594.5 645.6,601.5 648.2,605 650.8,613.8 654.3,624.3 657,634.8 659.6,643.6 662.2,655.8 664.5,666.4 668.4,667.2 670.1,678.6 671.9,687.4 675.4,690.9"/>
<polyline class="ln" stroke="#ff8c1a" stroke-width="1.15" points="406,584.5 565,586.2 593,586.61 610.6,588.4 617.6,589.6 622.8,591.9 631.6,592.4 642.1,593.7 644.7,599.8 648.2,607.7 651.7,617.3 654.3,627.8 657,638.3 659.6,645.3 662.2,654.1 664.9,663.7 667.5,665.5 671,666 672.2,675.1 673.6,692.6 675.1,699 675.9,709.3"/>
<polyline class="ln" stroke="#ff00ff" stroke-width="1.15" points="406,584.5 565,586.2 619.3,587 621.9,588.4 628.9,589.3 632.4,591 634.2,594.5 642.1,595.4 644.7,600.7 648.2,607.7 650.8,615.5 653.5,624.3 656.1,633.1 658.7,640.1 660.5,650.6 662.2,661.1 664,671.6 665.7,682.1 666.9,702.8 668.7,704.6 669.2,715.7 671,727.4 672.7,742.6 674.5,755.4 675.7,771.2"/>
</g>
<text class="s" x="405.6" y="807.7" font-size="8.1" text-anchor="middle">0</text>
<text class="s" x="459.72" y="807.7" font-size="8.1" text-anchor="middle">200</text>
<text class="s" x="513.84" y="807.7" font-size="8.1" text-anchor="middle">400</text>
<text class="s" x="567.96" y="807.7" font-size="8.1" text-anchor="middle">600</text>
<text class="s" x="622.08" y="807.7" font-size="8.1" text-anchor="middle">800</text>
<text class="s" x="676.2" y="807.7" font-size="8.1" text-anchor="middle">1000</text>
<text class="s" x="401.6" y="592.5" font-size="8.1" text-anchor="end">10<tspan font-size="6.5" dy="-4">0</tspan></text>
<text class="s" x="401.6" y="656.9" font-size="8.1" text-anchor="end">10<tspan font-size="6.5" dy="-4">-100</tspan></text>
<text class="s" x="401.6" y="721.3" font-size="8.1" text-anchor="end">10<tspan font-size="6.5" dy="-4">-200</tspan></text>
<text class="s" x="401.6" y="785.7" font-size="8.1" text-anchor="end">10<tspan font-size="6.5" dy="-4">-300</tspan></text>
<text class="s" x="540.9" y="819.7" font-size="9.05" text-anchor="middle">Iteration</text>
<text class="s" x="540.9" y="577.8" font-size="8.9" text-anchor="middle">F6</text>
<text class="s" font-size="9.1" letter-spacing="0.07" text-anchor="middle" transform="translate(374.9 688.5) rotate(-90)">Best score obtained so far</text>
<rect x="477.5" y="728.4" width="59.8" height="62.1" fill="#fff" stroke="#8a8a8a" stroke-width="1"/>
<line x1="480.2" y1="734.8" x2="505.3" y2="734.8" stroke="#ff0000" stroke-width="1.35"/>
<text class="s k" x="507.1" y="737.5" font-size="7.3">AOA</text>
<line x1="480.2" y1="744.65" x2="505.3" y2="744.65" stroke="#00ff00" stroke-width="1.35"/>
<text class="s k" x="507.1" y="747.35" font-size="7.3">LAOA</text>
<line x1="480.2" y1="754.5" x2="505.3" y2="754.5" stroke="#0000ff" stroke-width="1.1" stroke-dasharray="3 2.3"/>
<text class="s k" x="507.1" y="757.2" font-size="7.3">CDAOA</text>
<line x1="480.2" y1="764.35" x2="505.3" y2="764.35" stroke="#00ffff" stroke-width="1.1"/>
<text class="s k" x="507.1" y="767.05" font-size="7.3">CAOA</text>
<line x1="480.2" y1="774.2" x2="505.3" y2="774.2" stroke="#ff8c1a" stroke-width="1.1"/>
<text class="s k" x="507.1" y="776.9" font-size="7.3">COAOA</text>
<line x1="480.2" y1="784.05" x2="505.3" y2="784.05" stroke="#ff00ff" stroke-width="1.1"/>
<text class="s k" x="507.1" y="786.75" font-size="7.3">IAOA</text>
<text class="c" x="518.2" y="846.1" font-size="14.2">(f)</text>
<text class="c" x="539.9" y="846.1" font-size="15.4" font-style="italic">f</text>
<text class="c" x="546.2" y="848.6" font-size="12.2">6</text>
</g>
<g id="p7">
<clipPath id="cp7"><rect x="37.4" y="867.4" width="272" height="213.5"/></clipPath>
<path d="M37.5 1080.5v-3M37.5 868.5v3M91.5 1080.5v-3M91.5 868.5v3M146.5 1080.5v-3M146.5 868.5v3M200.5 1080.5v-3M200.5 868.5v3M254.5 1080.5v-3M254.5 868.5v3M308.5 1080.5v-3M308.5 868.5v3M37.5 869.5h3 M308.5 869.5h-3M37.5 876.5h1.5 M308.5 876.5h-1.5M37.5 882.5h1.5 M308.5 882.5h-1.5M37.5 889.5h1.5 M308.5 889.5h-1.5M37.5 895.5h1.5 M308.5 895.5h-1.5M37.5 902.5h1.5 M308.5 902.5h-1.5M37.5 908.5h1.5 M308.5 908.5h-1.5M37.5 915.5h1.5 M308.5 915.5h-1.5M37.5 921.5h1.5 M308.5 921.5h-1.5M37.5 928.5h1.5 M308.5 928.5h-1.5M37.5 935.5h3 M308.5 935.5h-3M37.5 941.5h1.5 M308.5 941.5h-1.5M37.5 948.5h1.5 M308.5 948.5h-1.5M37.5 954.5h1.5 M308.5 954.5h-1.5M37.5 961.5h1.5 M308.5 961.5h-1.5M37.5 967.5h1.5 M308.5 967.5h-1.5M37.5 974.5h1.5 M308.5 974.5h-1.5M37.5 980.5h1.5 M308.5 980.5h-1.5M37.5 987.5h1.5 M308.5 987.5h-1.5M37.5 993.5h1.5 M308.5 993.5h-1.5M37.5 1000.5h3 M308.5 1000.5h-3M37.5 1006.5h1.5 M308.5 1006.5h-1.5M37.5 1013.5h1.5 M308.5 1013.5h-1.5M37.5 1019.5h1.5 M308.5 1019.5h-1.5M37.5 1026.5h1.5 M308.5 1026.5h-1.5M37.5 1032.5h1.5 M308.5 1032.5h-1.5M37.5 1039.5h1.5 M308.5 1039.5h-1.5M37.5 1046.5h1.5 M308.5 1046.5h-1.5M37.5 1052.5h1.5 M308.5 1052.5h-1.5M37.5 1059.5h1.5 M308.5 1059.5h-1.5M37.5 1065.5h3 M308.5 1065.5h-3M37.5 1072.5h1.5 M308.5 1072.5h-1.5M37.5 1078.5h1.5 M308.5 1078.5h-1.5" stroke="#888888" stroke-width="1" fill="none"/>
<rect x="37.5" y="868.5" width="271" height="212" fill="none" stroke="#888888" stroke-width="1"/>
<g clip-path="url(#cp7)">
<polyline class="ln" stroke="#0000ff" stroke-width="1.35" stroke-dasharray="3.8 2.8" points="37.7,867.9 55.4,868.5 80.8,870.2 106.2,871.1 131.6,871.9 135.8,874.1 157,874.1 161.2,876.2 184.5,876.2 188.8,879.1 199.3,879.1 202.6,882.2 232.4,882.5 235,883.9 241.2,884.4 242,890 252.6,890.4 256.1,893.5 258.7,897.9 260.4,904.1 261.7,915.4 263.4,918.1 264.5,927.7 266.6,929.5 269.2,942.6 271.5,953.1 273.2,967.1 275,981.1 277.4,1001 279.7,1022 282,1043.1 284.4,1061.8 286.4,1077.5"/>
</g>
<line x1="37.2" y1="867.9" x2="309.2" y2="867.9" stroke="#fff" stroke-width="2.2"/>
<line x1="37.2" y1="867.9" x2="309.2" y2="867.9" stroke="#ff00ff" stroke-width="1.45"/>
<text class="s" x="37.7" y="1093.1" font-size="8.1" text-anchor="middle">0</text>
<text class="s" x="91.9" y="1093.1" font-size="8.1" text-anchor="middle">200</text>
<text class="s" x="146.1" y="1093.1" font-size="8.1" text-anchor="middle">400</text>
<text class="s" x="200.3" y="1093.1" font-size="8.1" text-anchor="middle">600</text>
<text class="s" x="254.5" y="1093.1" font-size="8.1" text-anchor="middle">800</text>
<text class="s" x="308.7" y="1093.1" font-size="8.1" text-anchor="middle">1000</text>
<text class="s" x="33.7" y="874.4" font-size="8.1" text-anchor="end">10<tspan font-size="6.5" dy="-4">0</tspan></text>
<text class="s" x="33.7" y="939.7" font-size="8.1" text-anchor="end">10<tspan font-size="6.5" dy="-4">-100</tspan></text>
<text class="s" x="33.7" y="1005" font-size="8.1" text-anchor="end">10<tspan font-size="6.5" dy="-4">-200</tspan></text>
<text class="s" x="33.7" y="1070.3" font-size="8.1" text-anchor="end">10<tspan font-size="6.5" dy="-4">-300</tspan></text>
<text class="s" x="173.2" y="1105.1" font-size="9.05" text-anchor="middle">Iteration</text>
<text class="s" x="173.2" y="864.3" font-size="8.9" text-anchor="middle">F7</text>
<text class="s" font-size="9.1" letter-spacing="0.07" text-anchor="middle" transform="translate(7.2 974.45) rotate(-90)">Best score obtained so far</text>
<rect x="109.5" y="1014.5" width="60" height="62" fill="#fff" stroke="#8a8a8a" stroke-width="1"/>
<line x1="112.2" y1="1020.9" x2="137.3" y2="1020.9" stroke="#ff0000" stroke-width="1.1"/>
<text class="s k" x="139.1" y="1023.6" font-size="7.3">AOA</text>
<line x1="112.2" y1="1030.75" x2="137.3" y2="1030.75" stroke="#00ff00" stroke-width="1.1"/>
<text class="s k" x="139.1" y="1033.45" font-size="7.3">LAOA</text>
<line x1="112.2" y1="1040.6" x2="137.3" y2="1040.6" stroke="#0000ff" stroke-width="1.1" stroke-dasharray="3 2.3"/>
<text class="s k" x="139.1" y="1043.3" font-size="7.3">CDAOA</text>
<line x1="112.2" y1="1050.45" x2="137.3" y2="1050.45" stroke="#00ffff" stroke-width="1.1"/>
<text class="s k" x="139.1" y="1053.15" font-size="7.3">CAOA</text>
<line x1="112.2" y1="1060.3" x2="137.3" y2="1060.3" stroke="#ff8c1a" stroke-width="1.1"/>
<text class="s k" x="139.1" y="1063" font-size="7.3">COAOA</text>
<line x1="112.2" y1="1070.15" x2="137.3" y2="1070.15" stroke="#ff00ff" stroke-width="1.1"/>
<text class="s k" x="139.1" y="1072.85" font-size="7.3">IAOA</text>
<text class="c" x="149.2" y="1131.3" font-size="14.2">(g)</text>
<text class="c" x="172.6" y="1131.3" font-size="15.4" font-style="italic">f</text>
<text class="c" x="178.8" y="1133.8" font-size="12.2">7</text>
</g>
<g id="p8">
<clipPath id="cp8"><rect x="395.6" y="867" width="271.7" height="213.9"/></clipPath>
<path d="M395.5 1080.5v-3M395.5 867.5v3M450.5 1080.5v-3M450.5 867.5v3M504.5 1080.5v-3M504.5 867.5v3M558.5 1080.5v-3M558.5 867.5v3M612.5 1080.5v-3M612.5 867.5v3M666.5 1080.5v-3M666.5 867.5v3M395.5 867.5h3 M666.5 867.5h-3M395.5 874.5h1.5 M666.5 874.5h-1.5M395.5 880.5h1.5 M666.5 880.5h-1.5M395.5 887.5h1.5 M666.5 887.5h-1.5M395.5 894.5h1.5 M666.5 894.5h-1.5M395.5 900.5h3 M666.5 900.5h-3M395.5 907.5h1.5 M666.5 907.5h-1.5M395.5 913.5h1.5 M666.5 913.5h-1.5M395.5 920.5h1.5 M666.5 920.5h-1.5M395.5 927.5h1.5 M666.5 927.5h-1.5M395.5 933.5h3 M666.5 933.5h-3M395.5 940.5h1.5 M666.5 940.5h-1.5M395.5 946.5h1.5 M666.5 946.5h-1.5M395.5 953.5h1.5 M666.5 953.5h-1.5M395.5 960.5h1.5 M666.5 960.5h-1.5M395.5 966.5h3 M666.5 966.5h-3M395.5 973.5h1.5 M666.5 973.5h-1.5M395.5 979.5h1.5 M666.5 979.5h-1.5M395.5 986.5h1.5 M666.5 986.5h-1.5M395.5 992.5h1.5 M666.5 992.5h-1.5M395.5 999.5h3 M666.5 999.5h-3M395.5 1006.5h1.5 M666.5 1006.5h-1.5M395.5 1012.5h1.5 M666.5 1012.5h-1.5M395.5 1019.5h1.5 M666.5 1019.5h-1.5M395.5 1025.5h1.5 M666.5 1025.5h-1.5M395.5 1032.5h3 M666.5 1032.5h-3M395.5 1039.5h1.5 M666.5 1039.5h-1.5M395.5 1045.5h1.5 M666.5 1045.5h-1.5M395.5 1052.5h1.5 M666.5 1052.5h-1.5M395.5 1058.5h1.5 M666.5 1058.5h-1.5M395.5 1065.5h3 M666.5 1065.5h-3M395.5 1071.5h1.5 M666.5 1071.5h-1.5M395.5 1078.5h1.5 M666.5 1078.5h-1.5" stroke="#888888" stroke-width="1" fill="none"/>
<rect x="395.5" y="867.5" width="271" height="213" fill="none" stroke="#888888" stroke-width="1"/>
<g clip-path="url(#cp8)">
<polyline class="ln" stroke="#ff0000" stroke-width="1.15" points="395.9,867.9 540,870 585.6,871.1 602,872.3 604.8,874.2 610.3,875.1 612.1,878.7 613.9,881.5 615.7,888.8 620.3,894.2 623,902.4 624.9,913.4 626.7,918 629.4,918.9 630.3,931.6 632.2,946.2 634,960.8 635.9,980.3 638.2,1003.3 639.8,1029.4 641.3,1057 642.1,1073.8"/>
<polyline class="ln" stroke="#00ff00" stroke-width="1.15" points="395.9,867.9 540,870 585.6,871.1 590.2,871.44 591.1,874.7 604.8,875.6 606.6,877.8 614.8,878.7 616.6,882.4 620.3,889.7 623,898.8 624.9,909.7 627.6,924.3 630.3,940.8 632.2,957.2 634,980 635.2,988 636.7,1011 637.9,1038.6 639,1063.1 639.8,1079.2"/>
<polyline class="ln" stroke="#0000ff" stroke-width="1.35" stroke-dasharray="3.8 2.8" points="395.9,868.2 409.9,869.7 410.8,872.8 506.5,873.4 511.1,874.3 549.4,874.6 556.4,876.9 561.9,877.8 567.4,881.1 582,882.7 589.3,885.1 596.6,888.8 599.3,894.2 602,901.5 607.5,905.2 611.2,911.6 612.1,922.5 614.8,924 616.6,933.5 618.5,940.8 620.3,949.9 622.5,952.6 623.9,962.7 626.8,969.6 627.5,983.4 629.8,1006.4 632.1,1034 633.6,1060 634.1,1075.4"/>
<polyline class="ln" stroke="#00ffff" stroke-width="1.15" points="395.9,867.9 540,870 576.5,870.88 589.3,872.3 602,874.2 605.7,876 607.5,882.4 614.8,883.3 616.6,889.7 619.4,900.6 622.1,911.6 624.9,924.3 626.7,935.3 628.5,946.2 630.3,959 631.2,975 632.9,983.4 635.2,1011 636.7,1038.6 638.2,1063.1 639,1077.7"/>
<polyline class="ln" stroke="#ff8c1a" stroke-width="1.15" points="395.9,867.9 540,870 585.6,871.1 592.9,871.63 605.7,872.7 613.9,873.2 614.8,876.9 617.6,879.6 620.3,885.1 624.9,888.8 626.7,897 629.4,909.7 631.2,922.5 633.1,935.3 634.9,948.1 636.4,957.2 637.5,984.9 639.5,1011 641,1041.6 641.8,1063.1 642.1,1073.1"/>
<polyline class="ln" stroke="#ff00ff" stroke-width="1.15" points="395.9,867.9 540,870 585.6,871.1 602,872.3 606.6,876 616.6,877.8 619.4,882.4 622.1,887.8 623.9,891.5 627.6,891.9 628.5,902.4 630.3,915.2 632.2,928 633.1,940.8 634.9,953.5 635.8,968.1 637.5,980.3 639,1003.3 640.5,1026.3 642.1,1049.3 643.2,1073.8"/>
</g>
<text class="s" x="395.9" y="1093.1" font-size="8.1" text-anchor="middle">0</text>
<text class="s" x="450.04" y="1093.1" font-size="8.1" text-anchor="middle">200</text>
<text class="s" x="504.18" y="1093.1" font-size="8.1" text-anchor="middle">400</text>
<text class="s" x="558.32" y="1093.1" font-size="8.1" text-anchor="middle">600</text>
<text class="s" x="612.46" y="1093.1" font-size="8.1" text-anchor="middle">800</text>
<text class="s" x="666.6" y="1093.1" font-size="8.1" text-anchor="middle">1000</text>
<text class="s" x="391.9" y="872.5" font-size="8.1" text-anchor="end">10<tspan font-size="6.5" dy="-4">0</tspan></text>
<text class="s" x="391.9" y="905.43" font-size="8.1" text-anchor="end">10<tspan font-size="6.5" dy="-4">-50</tspan></text>
<text class="s" x="391.9" y="938.37" font-size="8.1" text-anchor="end">10<tspan font-size="6.5" dy="-4">-100</tspan></text>
<text class="s" x="391.9" y="971.31" font-size="8.1" text-anchor="end">10<tspan font-size="6.5" dy="-4">-150</tspan></text>
<text class="s" x="391.9" y="1004.24" font-size="8.1" text-anchor="end">10<tspan font-size="6.5" dy="-4">-200</tspan></text>
<text class="s" x="391.9" y="1037.17" font-size="8.1" text-anchor="end">10<tspan font-size="6.5" dy="-4">-250</tspan></text>
<text class="s" x="391.9" y="1070.11" font-size="8.1" text-anchor="end">10<tspan font-size="6.5" dy="-4">-300</tspan></text>
<text class="s" x="531.25" y="1105.1" font-size="9.05" text-anchor="middle">Iteration</text>
<text class="s" x="531.25" y="863.9" font-size="8.9" text-anchor="middle">F8</text>
<text class="s" font-size="9.1" letter-spacing="0.07" text-anchor="middle" transform="translate(364.9 974.25) rotate(-90)">Best score obtained so far</text>
<rect x="467.5" y="1014.4" width="60.7" height="62" fill="#fff" stroke="#8a8a8a" stroke-width="1"/>
<line x1="470.2" y1="1020.8" x2="495.3" y2="1020.8" stroke="#ff0000" stroke-width="1.35"/>
<text class="s k" x="497.1" y="1023.5" font-size="7.3">AOA</text>
<line x1="470.2" y1="1030.65" x2="495.3" y2="1030.65" stroke="#00ff00" stroke-width="1.35"/>
<text class="s k" x="497.1" y="1033.35" font-size="7.3">LAOA</text>
<line x1="470.2" y1="1040.5" x2="495.3" y2="1040.5" stroke="#0000ff" stroke-width="1.1" stroke-dasharray="3 2.3"/>
<text class="s k" x="497.1" y="1043.2" font-size="7.3">CDAOA</text>
<line x1="470.2" y1="1050.35" x2="495.3" y2="1050.35" stroke="#00ffff" stroke-width="1.1"/>
<text class="s k" x="497.1" y="1053.05" font-size="7.3">CAOA</text>
<line x1="470.2" y1="1060.2" x2="495.3" y2="1060.2" stroke="#ff8c1a" stroke-width="1.1"/>
<text class="s k" x="497.1" y="1062.9" font-size="7.3">COAOA</text>
<line x1="470.2" y1="1070.05" x2="495.3" y2="1070.05" stroke="#ff00ff" stroke-width="1.1"/>
<text class="s k" x="497.1" y="1072.75" font-size="7.3">IAOA</text>
<text class="c" x="507" y="1131.3" font-size="14.2">(h)</text>
<text class="c" x="530.4" y="1131.3" font-size="15.4" font-style="italic">f</text>
<text class="c" x="536.6" y="1133.8" font-size="12.2">8</text>
</g>
</svg>
</body></html>
